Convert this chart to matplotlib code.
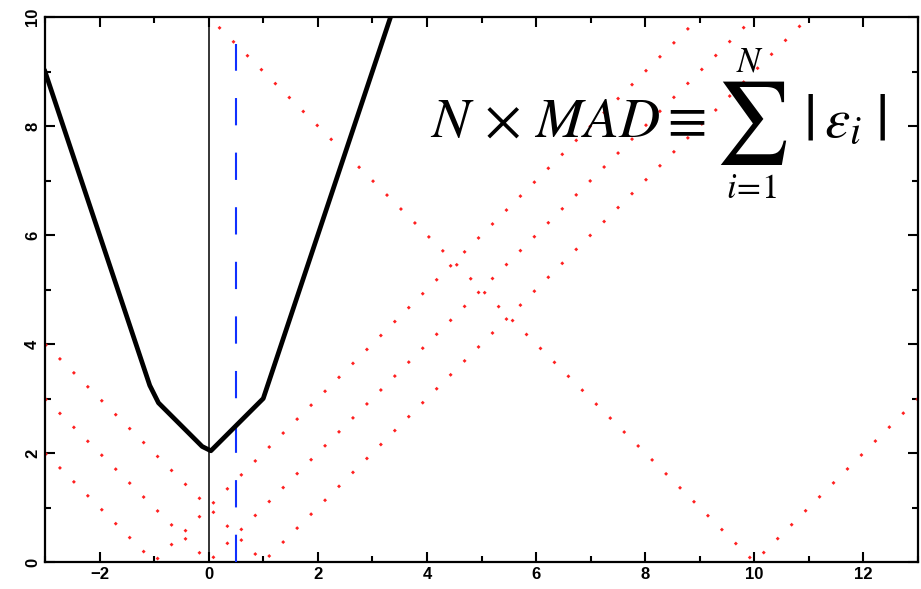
import numpy as np
from matplotlib import pyplot as plt
from matplotlib.ticker import MultipleLocator

# data points (residual positions) and the median marked in blue
points = [-1, 0, 1, 10]
core_points = [-1, 0, 1]      # points used for the black sum curve
median_x = 0.5
median_top = 9.5

# axis ranges
xlim = (-3, 13)
ylim = (0, 10)

plt.rcParams['font.family'] = ['Liberation Sans', 'DejaVu Sans']
plt.rcParams['mathtext.fontset'] = 'stix'

W, H = 921, 589
fig = plt.figure(figsize=(W/100, H/100), dpi=100)
ax = fig.add_axes([45/W, 27/H, 873/W, 545/H])

def px(x, y):
    # pixel position (from top left) -> figure fraction
    return x / W, 1 - y / H

# red dotted |x - a| curves, one per point
for a in points:
    xs = [xlim[0], a, xlim[1]]
    ys = [abs(x - a) for x in xs]
    ax.plot(xs, ys, color='#ff2020', lw=2.0, linestyle=(0, (1.0, 6.1)), zorder=2)

# black sum of absolute deviations, sampled on a grid
xg = np.linspace(xlim[0], xlim[1], 101)
total = np.zeros_like(xg)
for a in core_points:
    total += np.abs(xg - a)
ax.plot(xg, total, color='black', lw=3.4, zorder=4, solid_joinstyle='round')

# thin vertical line at x = 0
ax.plot([0, 0], [ylim[0], ylim[1]], color='black', lw=1.1, zorder=3)

# blue dashed line at the median
ax.plot([median_x, median_x], [0, median_top], color='#1030ff', lw=1.5,
        linestyle=(0, (13.1, 13.1)), zorder=3)

ax.set_xlim(*xlim)
ax.set_ylim(*ylim)
ax.xaxis.set_major_locator(MultipleLocator(2))
ax.xaxis.set_minor_locator(MultipleLocator(1))
ax.yaxis.set_major_locator(MultipleLocator(2))
ax.yaxis.set_minor_locator(MultipleLocator(1))
ax.tick_params(which='both', direction='in', top=True, right=True, width=1.5, labelsize=12)
ax.tick_params(which='major', length=7)
ax.tick_params(which='minor', length=4)
for lab in ax.get_xticklabels() + ax.get_yticklabels():
    lab.set_fontweight('bold')
for lab in ax.get_yticklabels():
    lab.set_rotation(90)
    lab.set_va('center')
for s in ax.spines.values():
    s.set_linewidth(1.6)

# formula, built from pieces so the sum sign and bars can be large
fig.text(*px(430, 137), r'$N\,\times\,MAD\equiv$', fontsize=41, ha='left', va='baseline')
fig.text(*px(751, 123), r'$\sum$', fontsize=59, ha='center', va='center')
fig.text(*px(750, 72), r'$N$', fontsize=25, ha='center', va='baseline')
fig.text(*px(751, 198), r'$i\!=\!1$', fontsize=25, ha='center', va='baseline')
fig.text(*px(808, 122), r'$|$', fontsize=48, ha='center', va='center')
fig.text(*px(824, 137), r'$\varepsilon_i$', fontsize=41, ha='left', va='baseline')
fig.text(*px(880, 122), r'$|$', fontsize=48, ha='center', va='center')

fig.savefig('out.png', dpi=100)
